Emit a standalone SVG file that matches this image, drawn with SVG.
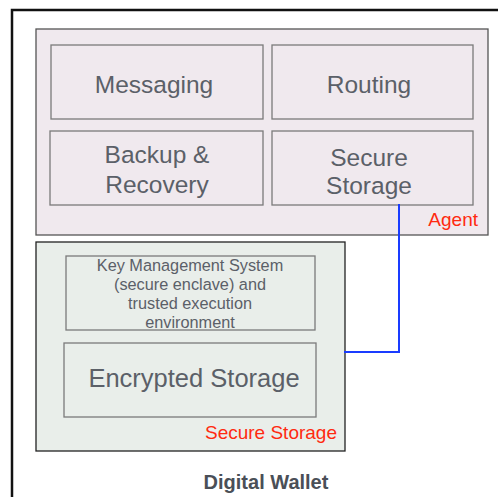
<svg xmlns="http://www.w3.org/2000/svg" width="498" height="497" viewBox="0 0 498 497">
<style>
.lbl{font-family:"Liberation Sans",Arial,sans-serif;fill:#5b6068;text-anchor:middle}
.red{font-family:"Liberation Sans",Arial,sans-serif;fill:#ff2a10;text-anchor:end;font-size:19px}
.inner{stroke:#7a7a7a;stroke-width:1.3}
</style>
<rect width="498" height="497" fill="#ffffff"/>
<g id="digital-wallet">
<rect x="12" y="10" width="500" height="500" fill="none" stroke="#111" stroke-width="2.5"/>
<text x="266" y="489" style="font-family:'Liberation Sans',Arial,sans-serif;font-weight:bold;font-size:20px;fill:#4a4f57;text-anchor:middle">Digital Wallet</text>
</g>
<g id="agent">
<rect x="36" y="29" width="452" height="206" fill="#f0e9ee" stroke="#555" stroke-width="1.3"/>
<text class="red" x="478" y="226">Agent</text>
</g>
<g id="messaging">
<rect class="inner" x="51" y="45" width="212" height="74" fill="#f0e9ee"/>
<text class="lbl" x="154" y="92.5" font-size="24.5">Messaging</text>
</g>
<g id="routing">
<rect class="inner" x="272" y="45" width="201" height="74" fill="#f0e9ee"/>
<text class="lbl" x="369" y="92.5" font-size="24.5">Routing</text>
</g>
<g id="backup">
<rect class="inner" x="50" y="131" width="213" height="74" fill="#f0e9ee"/>
<text class="lbl" x="157" y="163" font-size="24.5">Backup &amp;</text>
<text class="lbl" x="157" y="193" font-size="24.5">Recovery</text>
</g>
<g id="secure-storage-agent">
<rect class="inner" x="272" y="131" width="201" height="74" fill="#f0e9ee"/>
<text class="lbl" x="369" y="166" font-size="24.5">Secure</text>
<text class="lbl" x="369" y="194" font-size="24.5">Storage</text>
</g>
<g id="secure-storage">
<rect x="36" y="242" width="309" height="209" fill="#e9eeea" stroke="#222" stroke-width="1.3"/>
<text class="red" x="337" y="439">Secure Storage</text>
</g>
<g id="kms">
<rect class="inner" x="66" y="256" width="249" height="74" fill="#e9eeea"/>
<text class="lbl" x="190" y="271" font-size="16.3">Key Management System</text>
<text class="lbl" x="190" y="290" font-size="16.3">(secure enclave) and</text>
<text class="lbl" x="190" y="309" font-size="16.3">trusted execution</text>
<text class="lbl" x="190" y="328" font-size="16.3">environment</text>
</g>
<g id="encrypted-storage">
<rect class="inner" x="64" y="343" width="252" height="74" fill="#e9eeea"/>
<text class="lbl" x="194" y="387" font-size="25.5">Encrypted Storage</text>
</g>
<g id="connectors">
<polyline points="399,204 399,352 344,352" fill="none" stroke="#1a3cff" stroke-width="2"/>
</g>
</svg>
